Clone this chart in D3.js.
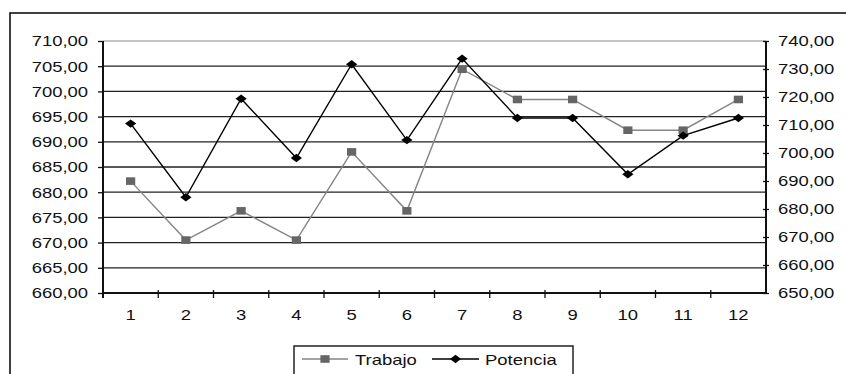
<!DOCTYPE html>
<html>
<head>
<meta charset="utf-8">
<script src="https://cdn.jsdelivr.net/npm/d3@7"></script>
<style>
  html, body { margin: 0; padding: 0; background: #fff; }
  svg { display: block; }
  text { font-family: "Liberation Sans", Arial, sans-serif; font-size: 15px; fill: #111; }
</style>
</head>
<body>
<svg id="chart" width="846" height="374"></svg>
<script>
// Categories along the horizontal axis
const categories = [1, 2, 3, 4, 5, 6, 7, 8, 9, 10, 11, 12];
// Left-axis series
const trabajo = [682.2, 670.5, 676.3, 670.5, 688.0, 676.3, 704.4, 698.4, 698.4, 692.3, 692.3, 698.4];
// Right-axis series
const potencia = [710.5, 684.2, 719.4, 698.2, 731.7, 704.6, 733.7, 712.5, 712.5, 692.4, 706.2, 712.5];
// Axis tick values
const leftTicks = [660, 665, 670, 675, 680, 685, 690, 695, 700, 705, 710];
const rightTicks = [650, 660, 670, 680, 690, 700, 710, 720, 730, 740];
const seriesNames = ["Trabajo", "Potencia"];

const svg = d3.select("#chart");
const plot = { left: 103, right: 766, top: 41, bottom: 293 };
const stretch = 1.23;

const es = d3.formatLocale({ decimal: ",", thousands: ".", grouping: [3], currency: ["", "€"] });
const fmt = es.format(".2f");

const x = d3.scaleBand().domain(categories).range([plot.left, plot.right]).paddingInner(0).paddingOuter(0);
const yL = d3.scaleLinear().domain([660, 710]).range([plot.bottom, plot.top]);
const yR = d3.scaleLinear().domain([650, 740]).range([plot.bottom, plot.top]);

// Outer chart frame
svg.append("rect")
  .attr("x", 10).attr("y", 13).attr("width", 900).attr("height", 420)
  .attr("fill", "none").attr("stroke", "#111").attr("stroke-width", 1.6);

// Horizontal gridlines from the left scale
svg.append("g").selectAll("line").data(leftTicks.filter(d => d > 660)).join("line")
  .attr("x1", plot.left).attr("x2", plot.right)
  .attr("y1", d => yL(d)).attr("y2", d => yL(d))
  .attr("stroke", d => d === 710 ? "#8a8a8a" : "#222")
  .attr("stroke-width", d => d === 710 ? 1.2 : 1.3);

function stretchText(sel, anchor) {
  sel.selectAll("text").each(function () {
    const t = d3.select(this);
    const tx = +t.attr("x") || 0;
    const ty = +t.attr("y") || 0;
    t.attr("x", 0).attr("y", 0)
      .attr("transform", `translate(${tx},${ty}) scale(${stretch},1)`)
      .attr("text-anchor", anchor)
      .attr("fill", "#111");
  });
}

// Left axis
const gL = svg.append("g").attr("transform", `translate(${plot.left},0)`)
  .call(d3.axisLeft(yL).tickValues(leftTicks).tickFormat(fmt).tickSize(5).tickPadding(10).tickSizeOuter(0));
gL.select(".domain").attr("stroke", "#111").attr("stroke-width", 2)
  .attr("d", `M0,${plot.top}V${plot.bottom + 5}`);
gL.selectAll(".tick line").attr("stroke", "#111").attr("stroke-width", 1.3);
gL.selectAll("text").style("font-size", "15px");
stretchText(gL, "end");

// Right axis
const gR = svg.append("g").attr("transform", `translate(${plot.right},0)`)
  .call(d3.axisRight(yR).tickValues(rightTicks).tickFormat(fmt).tickSize(3).tickPadding(9).tickSizeOuter(0));
gR.select(".domain").attr("stroke", "#111").attr("stroke-width", 2)
  .attr("d", `M0,${plot.top}V${plot.bottom}`);
gR.selectAll(".tick line").attr("x1", -3).attr("stroke", "#111").attr("stroke-width", 1.3);
gR.selectAll("text").style("font-size", "15px");
stretchText(gR, "start");

// Bottom axis with labels at category centres
const gB = svg.append("g").attr("transform", `translate(0,${plot.bottom})`)
  .call(d3.axisBottom(x).tickSize(0).tickPadding(16).tickSizeOuter(0));
gB.select(".domain").attr("stroke", "#111").attr("stroke-width", 2)
  .attr("d", `M${plot.left},0H${plot.right}`);
gB.selectAll("text").style("font-size", "15px");
stretchText(gB, "middle");
// Boundary ticks between categories
gB.append("g").selectAll("line").data(categories.slice(1)).join("line")
  .attr("x1", d => x(d)).attr("x2", d => x(d))
  .attr("y1", -3).attr("y2", 5)
  .attr("stroke", "#111").attr("stroke-width", 1.3);

const cx = d => x(d) + x.bandwidth() / 2;
const squarePath = "M-4.6,-3.8H4.6V3.8H-4.6Z";
const diamondPath = "M0,-4.2L5.6,0L0,4.2L-5.6,0Z";

// Trabajo series (left axis)
const lineL = d3.line().x((d, i) => cx(categories[i])).y(d => yL(d));
svg.append("path").datum(trabajo).attr("d", lineL)
  .attr("fill", "none").attr("stroke", "#858585").attr("stroke-width", 1.4);
svg.append("g").selectAll("path").data(trabajo).join("path")
  .attr("d", squarePath)
  .attr("transform", (d, i) => `translate(${cx(categories[i])},${yL(d)})`)
  .attr("fill", "#666");

// Potencia series (right axis)
const lineR = d3.line().x((d, i) => cx(categories[i])).y(d => yR(d));
svg.append("path").datum(potencia).attr("d", lineR)
  .attr("fill", "none").attr("stroke", "#000").attr("stroke-width", 1.4);
svg.append("g").selectAll("path").data(potencia).join("path")
  .attr("d", diamondPath)
  .attr("transform", (d, i) => `translate(${cx(categories[i])},${yR(d)})`)
  .attr("fill", "#000");

// Legend
const lg = svg.append("g");
lg.append("rect").attr("x", 294).attr("y", 346).attr("width", 279).attr("height", 40)
  .attr("fill", "#fff").attr("stroke", "#222").attr("stroke-width", 1.5);
const legendItems = [
  { name: seriesNames[0], x0: 302, x1: 348, color: "#858585", mark: squarePath, fill: "#666", tx: 355 },
  { name: seriesNames[1], x0: 432, x1: 479, color: "#000", mark: diamondPath, fill: "#000", tx: 485 }
];
const li = lg.selectAll("g.item").data(legendItems).join("g").attr("class", "item");
li.append("line").attr("x1", d => d.x0).attr("x2", d => d.x1).attr("y1", 359).attr("y2", 359)
  .attr("stroke", d => d.color).attr("stroke-width", 1.4);
li.append("path").attr("d", d => d.mark)
  .attr("transform", d => `translate(${(d.x0 + d.x1) / 2},359)`).attr("fill", d => d.fill);
li.append("text").text(d => d.name)
  .attr("transform", d => `translate(${d.tx},364.5) scale(${stretch},1)`)
  .attr("fill", "#111");
</script>
</body>
</html>
